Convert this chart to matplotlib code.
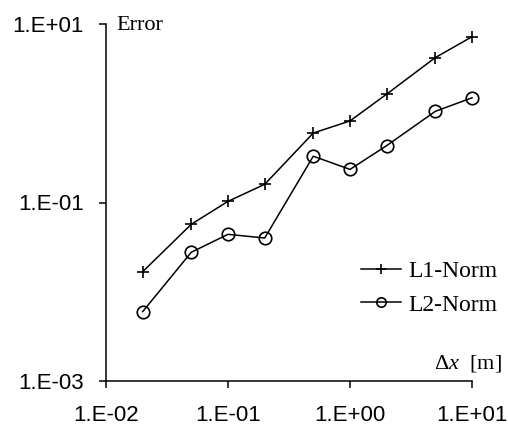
import numpy as np
import matplotlib
matplotlib.use("Agg")
import matplotlib.pyplot as plt
from matplotlib.ticker import FixedLocator, FuncFormatter, NullLocator

plt.rcParams['mathtext.fontset'] = 'custom'
plt.rcParams['mathtext.rm'] = 'Liberation Serif'
plt.rcParams['mathtext.it'] = 'Liberation Serif:italic'

dx = [0.02, 0.05, 0.1, 0.2, 0.5, 1, 2, 5, 10]
l1_norm = [0.0168, 0.057, 0.103, 0.16, 0.60, 0.82, 1.64, 4.2, 7.2]
l2_norm = [0.0060, 0.0277, 0.044, 0.040, 0.33, 0.235, 0.434, 1.05, 1.49]
x_ticks = [1e-2, 1e-1, 1e0, 1e1]
y_ticks = [1e-3, 1e-1, 1e1]

W, H = 508, 429
fig = plt.figure(figsize=(W / 100, H / 100), dpi=100)
ax = fig.add_axes([106 / W, 1 - 381 / H, (472 - 106) / W, (381 - 24) / H])

ax.plot(dx, l1_norm, color='black', lw=1.1, marker='+', ms=9, mew=1.2,
        label='L1-Norm', clip_on=False)
ax.plot(dx, l2_norm, color='black', lw=1.1, marker='o', ms=9, mfc='none', mew=1.2,
        label='L2-Norm', clip_on=False)

ax.set_xscale('log')
ax.set_yscale('log')
ax.set_xlim(1e-2, 1e1)
ax.set_ylim(1e-3, 1e1)
fmt = FuncFormatter(lambda v, p: "1.E%+03d" % int(round(np.log10(v))))
ax.xaxis.set_major_locator(FixedLocator(x_ticks))
ax.yaxis.set_major_locator(FixedLocator(y_ticks))
ax.xaxis.set_minor_locator(NullLocator())
ax.yaxis.set_minor_locator(NullLocator())
ax.xaxis.set_major_formatter(fmt)
ax.yaxis.set_major_formatter(fmt)
for s in ['top', 'right']:
    ax.spines[s].set_visible(False)
for s in ['left', 'bottom']:
    ax.spines[s].set_linewidth(1.1)
ax.tick_params(axis='both', direction='out', length=5, width=1.1, labelsize=16)
ax.tick_params(axis='x', pad=12)
ax.tick_params(axis='y', pad=11)
for lab in ax.get_xticklabels() + ax.get_yticklabels():
    lab.set_fontfamily('Liberation Sans')

leg = ax.legend(loc='center left', bbox_to_anchor=(360.7 / W, 1 - 288.3 / H),
                bbox_transform=fig.transFigure, frameon=False, borderpad=0,
                borderaxespad=0, handlelength=1.7, handletextpad=0.3,
                labelspacing=0.5, markerscale=0.75,
                prop={'family': 'Liberation Serif', 'size': 17})

fig.text(116 / W, 1 - 25 / H, 'Error', family='Liberation Serif', fontsize=16,
         ha='left', va='center')
fig.text(502 / W, 1 - 363 / H, 'Δ$x$  [m]', family='Liberation Serif', fontsize=16,
         ha='right', va='center')

fig.savefig('out.png', dpi=100)
